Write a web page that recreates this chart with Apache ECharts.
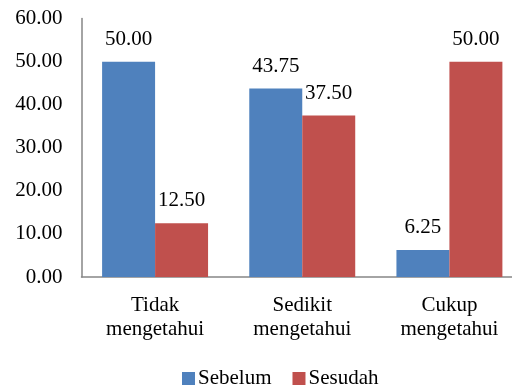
<!DOCTYPE html>
<html>
<head>
<meta charset="utf-8">
<script src="https://cdn.jsdelivr.net/npm/echarts@6/dist/echarts.min.js"></script>
<style>html,body{margin:0;padding:0;background:#fff;overflow:hidden}#c{width:523px;height:385px}</style>
</head>
<body>
<div id="c"></div>
<script>
var categories = ["Tidak\nmengetahui", "Sedikit\nmengetahui", "Cukup\nmengetahui"];
var sebelum = [50.00, 43.75, 6.25];
var sesudah = [12.50, 37.50, 50.00];
var yTicks = [0, 10, 20, 30, 40, 50, 60];

var font = "'Liberation Serif', 'Times New Roman', serif";
var chart = echarts.init(document.getElementById('c'));
chart.setOption({
  animation: false,
  textStyle: { fontFamily: font, color: '#000' },
  grid: { left: 81.5, right: 0, top: 18.6, bottom: 108, containLabel: false },
  legend: {
    left: 177, top: 363,
    icon: 'rect', itemWidth: 13, itemHeight: 13, itemGap: 21,
    textStyle: { fontFamily: font, fontSize: 21, color: '#000', padding: [0, 0, 0, -2] },
    data: ['Sebelum', 'Sesudah']
  },
  xAxis: {
    type: 'category',
    data: categories,
    axisLine: { lineStyle: { color: '#868686', width: 1.5 } },
    axisTick: { show: false },
    axisLabel: { fontFamily: font, fontSize: 21, color: '#000', lineHeight: 24, margin: 16 }
  },
  yAxis: {
    type: 'value',
    min: yTicks[0], max: yTicks[yTicks.length - 1], interval: 10,
    axisLine: { show: true, lineStyle: { color: '#868686', width: 1.5 } },
    axisTick: { show: false },
    splitLine: { show: false },
    axisLabel: { fontFamily: font, fontSize: 21, color: '#000', margin: 19,
      formatter: function (v) { return v.toFixed(2); } }
  },
  series: [
    {
      name: 'Sebelum', type: 'bar', data: sebelum,
      barGap: '0%', barCategoryGap: '28%',
      itemStyle: { color: '#4F81BD' },
      label: { show: true, position: 'top', distance: 12, fontFamily: font, fontSize: 21, color: '#000',
        formatter: function (p) { return p.value.toFixed(2); } }
    },
    {
      name: 'Sesudah', type: 'bar', data: sesudah,
      barGap: '0%', barCategoryGap: '28%',
      itemStyle: { color: '#C0504D' },
      label: { show: true, position: 'top', distance: 12, fontFamily: font, fontSize: 21, color: '#000',
        formatter: function (p) { return p.value.toFixed(2); } }
    }
  ]
});
</script>
</body>
</html>
